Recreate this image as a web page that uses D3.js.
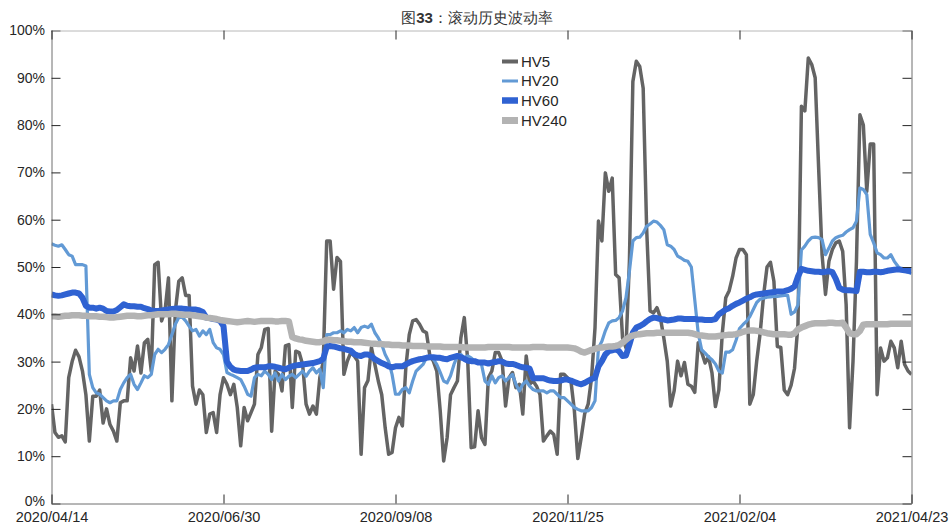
<!DOCTYPE html>
<html><head><meta charset="utf-8">
<script src="https://cdn.jsdelivr.net/npm/d3@7"></script>
<style>
body{margin:0;background:#fff}
svg{display:block}
text{font-family:"Liberation Sans",Arial,Helvetica,sans-serif}
</style>
</head><body>
<svg id="chart" width="952" height="526"></svg>
<script>
// ---- data ----
const xLabels = ["2020/04/14","2020/06/30","2020/09/08","2020/11/25","2021/02/04","2021/04/23"];
const xTickIdx = [0,50,100,150,200,250];
const yTicks = [0,10,20,30,40,50,60,70,80,90,100];
const seriesNames = ["HV5","HV20","HV60","HV240"];

const hv5 = [
21,15,14,14.3,13,26.6,30,32.4,31,28,
23,13.2,22.7,22.7,24,17,20,16.7,15.3,13.2,
21.3,21.7,21.7,30.8,28,33.3,27.6,34,34.7,28,
50.5,51,38.6,40.7,47.7,21.7,40.7,47,47.7,44,
44,24.8,21,24,23,15,18.9,19.2,15,23,
26.6,25.2,23,25.2,20.3,12.2,20.3,17.5,19.2,21,
31.5,33,36.8,37,15.3,28,27.3,23.8,33.3,33.6,
20.3,32.2,31.9,29.4,21,18.9,20.6,18.9,26.6,30,
55.5,55.5,45.3,52,51.2,27.3,30.1,31.9,31.2,30.1,
10.4,24.5,26,33,29.4,25.9,23,16,10.4,10.8,
16,18.2,16.4,28.7,35.7,38.6,38.9,37.9,36.5,36.1,
31.2,30.1,28,19.6,9,13.9,23,24.5,25.9,35,
39.3,30.1,11.8,12,19.6,13.9,12.5,26.6,28,31.9,
31.9,30.1,20.6,26.6,27.7,24.5,25.2,18.9,31.2,25.2,
25.9,24.8,23,13.2,14.3,15.3,14.6,10.4,27.3,27.3,
26.6,25.9,19.6,9.5,14,19,21,26.6,37.2,59.7,
55.5,69.9,66,68.8,48.4,47.7,35,32.9,51.2,89.2,
93.5,92.4,87.8,58.3,40.7,40.3,41.4,39.3,35,30.1,
20.6,23.8,30.1,27,29.8,25.2,24.8,23.5,34,32,
29.7,31,27.6,20.5,24,36,43.5,45,48,51.9,
53.7,53.7,52.6,21,23,30.1,36,44,50,51,
47,33.2,33,24,23,25,28.6,38,84,83,
94.2,92.8,90,71,52.6,44.2,51.2,53.7,55.1,55.5,
53.3,42.1,16,30.1,51.2,82.2,80,66,76,76,
23,32.9,30.1,30.8,34.3,32.9,28.7,34.3,29.4,28,
27.3];

const hv20 = [
54.9,54.6,54.4,54.7,53.7,52.6,52.3,50.5,50.5,50.5,
50.2,27.3,24.5,23.4,23.1,22.4,21.7,21.3,21.7,21.7,
24.1,25.5,26.6,27.3,25.2,24.1,25.5,27,26.6,27.3,
31.5,32.6,31.9,32.6,33.6,35.7,37.9,39.3,39.4,38.6,
37.5,36.5,36.8,35.4,36.5,35.7,36.8,34,32.9,32.6,
31.5,27.7,27.3,27,26.6,26.2,24.8,23.1,22.7,26.6,
27.3,27,28,27.3,26.2,27.6,25.9,27.3,26.2,26.9,
27.3,26.6,27.3,28,26.9,28,28.7,27.6,28.4,24.5,
35.7,35.7,36.1,36.1,36.5,36.1,36.8,36.5,37.2,36.1,
37.2,37.5,37.2,37.9,36.1,35,33.6,31.5,30.1,27.3,
23.1,23.1,24.1,24.5,23.4,25.9,28,28.7,29.4,30.8,
31.2,30.5,29.4,27.7,25.9,25.5,27,29.4,31.2,31.5,
30.8,31.2,30.8,30.1,30.1,29.4,25.9,25.2,27,25.5,
26.6,27,25.9,26.6,27.3,25.2,23.8,25.2,25.9,24.8,
24.1,23.8,23.8,23.8,23.4,23.8,23.8,23.1,22.4,22.4,
21.7,21,20.3,19.9,19.6,19.6,19.6,20.3,21.7,32.9,
34.3,36.5,38.2,38.6,38.7,39.3,40.7,43.5,49.1,55.5,
56.2,56.3,57.2,58.6,59.1,59.7,59.5,58.8,57.9,54.7,
54.4,53.7,52.3,51.9,51.4,51.2,50,43,36,32.5,
31.8,31,30.4,29.5,28,27.6,32,32,32.5,34.5,
37,37.8,38.5,39.5,41,42.5,43.2,43.4,43.6,43.7,
43.8,43.8,43.9,44,44,40,40.5,42,53.6,54.4,
55.5,56.2,56.3,56.2,55.8,52.6,54,55.5,56.2,56.5,
56.7,57.4,57.9,58.3,59.7,66.7,66.4,65.3,56.9,55.1,
53,52.6,51.9,51.9,52.6,51.2,50.2,49.5,49.2,48.9,
48.6];

const hv60 = [
44.2,44,43.9,44,44.2,44.4,44.6,44.6,44.4,43.5,
41.8,41.4,41.4,41.2,41.4,41.2,40.7,40.6,40.6,40.9,
41.5,42.1,41.8,41.7,41.7,41.6,41.6,41.3,41.1,40.8,
40.7,40.7,40.8,40.9,41,41.1,41.2,41.2,41.2,41.1,
41,41,41,40.8,40.5,39.3,39.2,39,38.9,38.6,
37.5,30,28.9,28.3,28.1,28,28,28,28.3,28.7,
28.8,28.8,28.8,29,29,28.9,28.7,28.5,28.4,28.7,
29,29.2,29.3,29.4,29.5,29.6,29.7,29.9,30.1,30.6,
33.1,33.3,33.2,33,32.8,32.7,32.5,32.3,31.6,31.3,
31.2,31.5,31.5,31.2,30.5,30.1,29.7,29.4,29,28.8,
29,29,29,29.4,29.8,30.1,30.3,30.5,30.6,30.8,
30.9,30.9,30.8,30.8,30.6,30.5,30.8,31,31.2,30.9,
30.6,30.2,30.1,30.1,29.8,29.8,29.8,29.6,29.8,29.9,
30.1,30,29.6,29.5,29.5,29.3,29,28.8,28.7,28.5,
26.5,26.5,26.5,26.5,26.2,26,25.9,25.9,26,26.2,
26.2,26,25.7,25.4,25.2,25.5,25.9,26.3,26.6,29,
30.1,31.5,32.2,32.4,32.6,32.2,31.2,31.3,33.6,36.1,
37.2,37.5,37.9,38.5,39,39.3,39.2,39,38.9,38.7,
38.8,38.9,39.1,39.1,39,39,39,39,38.9,38.9,
38.8,38.8,38.8,39,40,40.5,41,41.3,41.8,42.2,
42.5,42.9,43.3,43.6,44,44.2,44.3,44.4,44.5,44.6,
44.7,44.8,44.8,44.9,45.1,45.4,45.9,48,49.6,49.4,
49.2,49.1,49,49,48.9,49,49.1,48.9,47.5,45.6,
45.2,45.1,45.1,45,44.9,49,49,48.9,48.9,49,
49,48.9,49,49.2,49.3,49.4,49.5,49.4,49.3,49.2,
49.1];

const hv240 = [
39.6,39.6,39.5,39.6,39.7,39.7,39.8,39.8,39.8,39.7,
39.7,39.6,39.6,39.6,39.5,39.5,39.4,39.3,39.3,39.4,
39.5,39.6,39.7,39.7,39.7,39.6,39.6,39.7,39.8,39.8,
39.9,40,40,40,40,40.1,40.1,40,39.9,39.9,
39.9,39.8,39.7,39.6,39.5,39.3,39.2,39.1,39,38.8,
38.7,38.6,38.5,38.4,38.3,38.4,38.5,38.6,38.5,38.4,
38.5,38.6,38.6,38.6,38.6,38.5,38.5,38.6,38.6,38.5,
35.2,34.9,34.7,34.6,34.4,34.3,34.2,34.1,34.1,34.3,
34.6,34.6,34.5,34.5,34.4,34.3,34.2,34.2,34.1,34.1,
34.1,34,33.9,33.8,33.8,33.7,33.7,33.6,33.6,33.5,
33.5,33.5,33.4,33.4,33.4,33.3,33.3,33.3,33.3,33.2,
33.2,33.2,33.2,33.2,33.1,33.1,33.1,33.1,33.1,33.1,
33,33,33,33,33,33,33,33.1,33.1,33.1,
33.1,33.1,33.1,33.1,33,33,33,33,33,33,
33.1,33.1,33.1,33.1,33,33,33,33,33,33,
33,32.9,32.8,32.5,32.1,31.9,32.2,32.5,32.7,32.9,
33,33.1,33.2,33.2,33.3,33.5,34,34.6,35.2,35.5,
35.7,35.8,35.9,36,36,36,36.1,36.1,36.1,36.1,
36.1,36.1,36.1,36.1,36.1,36.1,36,35.8,35.6,35.5,
35.4,35.3,35.3,35.3,35.4,35.5,35.6,35.7,35.7,35.8,
36,36.3,36.5,36.6,36.6,36.5,36.4,36.2,36,35.9,
35.8,35.8,35.8,35.8,35.7,35.7,36,36.8,37.2,37.5,
37.8,38,38.1,38.1,38.1,38.1,38.2,38.2,38.1,38.1,
38.2,37.2,36,35.8,35.8,36.5,37.8,37.9,37.9,37.9,
37.9,37.9,37.9,37.9,38,38,38,38,38,38,
38];

const seriesData = [hv5, hv20, hv60, hv240];
const colors = ["#646464","#629ad5","#2f62d2","#b3b3b3"];
const widths = [3.5, 3.2, 6, 6.5];

// ---- layout ----
const svg = d3.select("#chart");
const L = 51.5, R = 911.5, T = 30.5, B = 503.5;
const x = d3.scaleLinear().domain([0,250]).range([L,R]);
const y = d3.scaleLinear().domain([0,100]).range([B,T]);

svg.append("defs").append("clipPath").attr("id","clip")
  .append("rect").attr("x",L).attr("y",T).attr("width",R-L).attr("height",B-T);

// series
const g = svg.append("g").attr("clip-path","url(#clip)");
seriesData.forEach((arr,k)=>{
  const line = d3.line().x((d,i)=>x(i)).y(d=>y(d));
  g.append("path").datum(arr)
    .attr("fill","none").attr("stroke",colors[k]).attr("stroke-width",widths[k])
    .attr("stroke-linejoin","round").attr("stroke-linecap","butt")
    .attr("d",line);
});

// axes
const lineColor = "#6e6e6e", tickColor = "#262626";
const yl = svg.append("g").attr("transform",`translate(${L},0)`)
  .call(d3.axisLeft(y).tickValues(yTicks).tickFormat(d=>d+"%").tickSize(-9).tickSizeOuter(0).tickPadding(6.5));
const yr = svg.append("g").attr("transform",`translate(${R},0)`)
  .call(d3.axisRight(y).tickValues(yTicks).tickFormat("").tickSize(-9).tickSizeOuter(0));
const xb = svg.append("g").attr("transform",`translate(0,${B})`)
  .call(d3.axisBottom(x).tickValues(xTickIdx).tickFormat((d,i)=>xLabels[i]).tickSize(-9).tickSizeOuter(0).tickPadding(8.5));
const xt = svg.append("g").attr("transform",`translate(0,${T})`)
  .call(d3.axisTop(x).tickValues(xTickIdx).tickFormat("").tickSize(-9).tickSizeOuter(0));

[yl,yr,xb,xt].forEach(a=>{
  a.select(".domain").attr("stroke",lineColor).attr("stroke-width",1);
  a.selectAll(".tick line").attr("stroke",tickColor);
  a.selectAll(".tick text").attr("fill","#262626")
   .attr("font-family","'Liberation Sans',Arial,sans-serif");
});
xt.select(".domain").attr("stroke","#b8b8b8");
yl.selectAll(".tick text").attr("font-size","14px");
yl.selectAll(".tick text").filter(d=>d===0).attr("y",-2.5);
xb.selectAll(".tick text").attr("font-size","14.5px");

// title
svg.append("text").attr("x",477).attr("y",23).attr("text-anchor","middle")
  .attr("font-size","15px").attr("fill","#333")
  .attr("font-family","'Noto Sans CJK SC','Liberation Sans',sans-serif")
  .html('图<tspan font-weight="bold" font-family="Liberation Sans">33</tspan>：滚动历史波动率');

// legend
const legY = [61.5, 81, 100.5, 120.5];
const legH = [4, 3, 6.5, 7];
const lg = svg.append("g");
seriesNames.forEach((n,k)=>{
  lg.append("rect").attr("x",502).attr("y",legY[k]-legH[k]/2).attr("width",16).attr("height",legH[k]).attr("fill",colors[k]);
  lg.append("text").attr("x",521).attr("y",legY[k]+5.3).attr("font-size","15px").attr("fill","#262626").text(n);
});
</script>
</body></html>
